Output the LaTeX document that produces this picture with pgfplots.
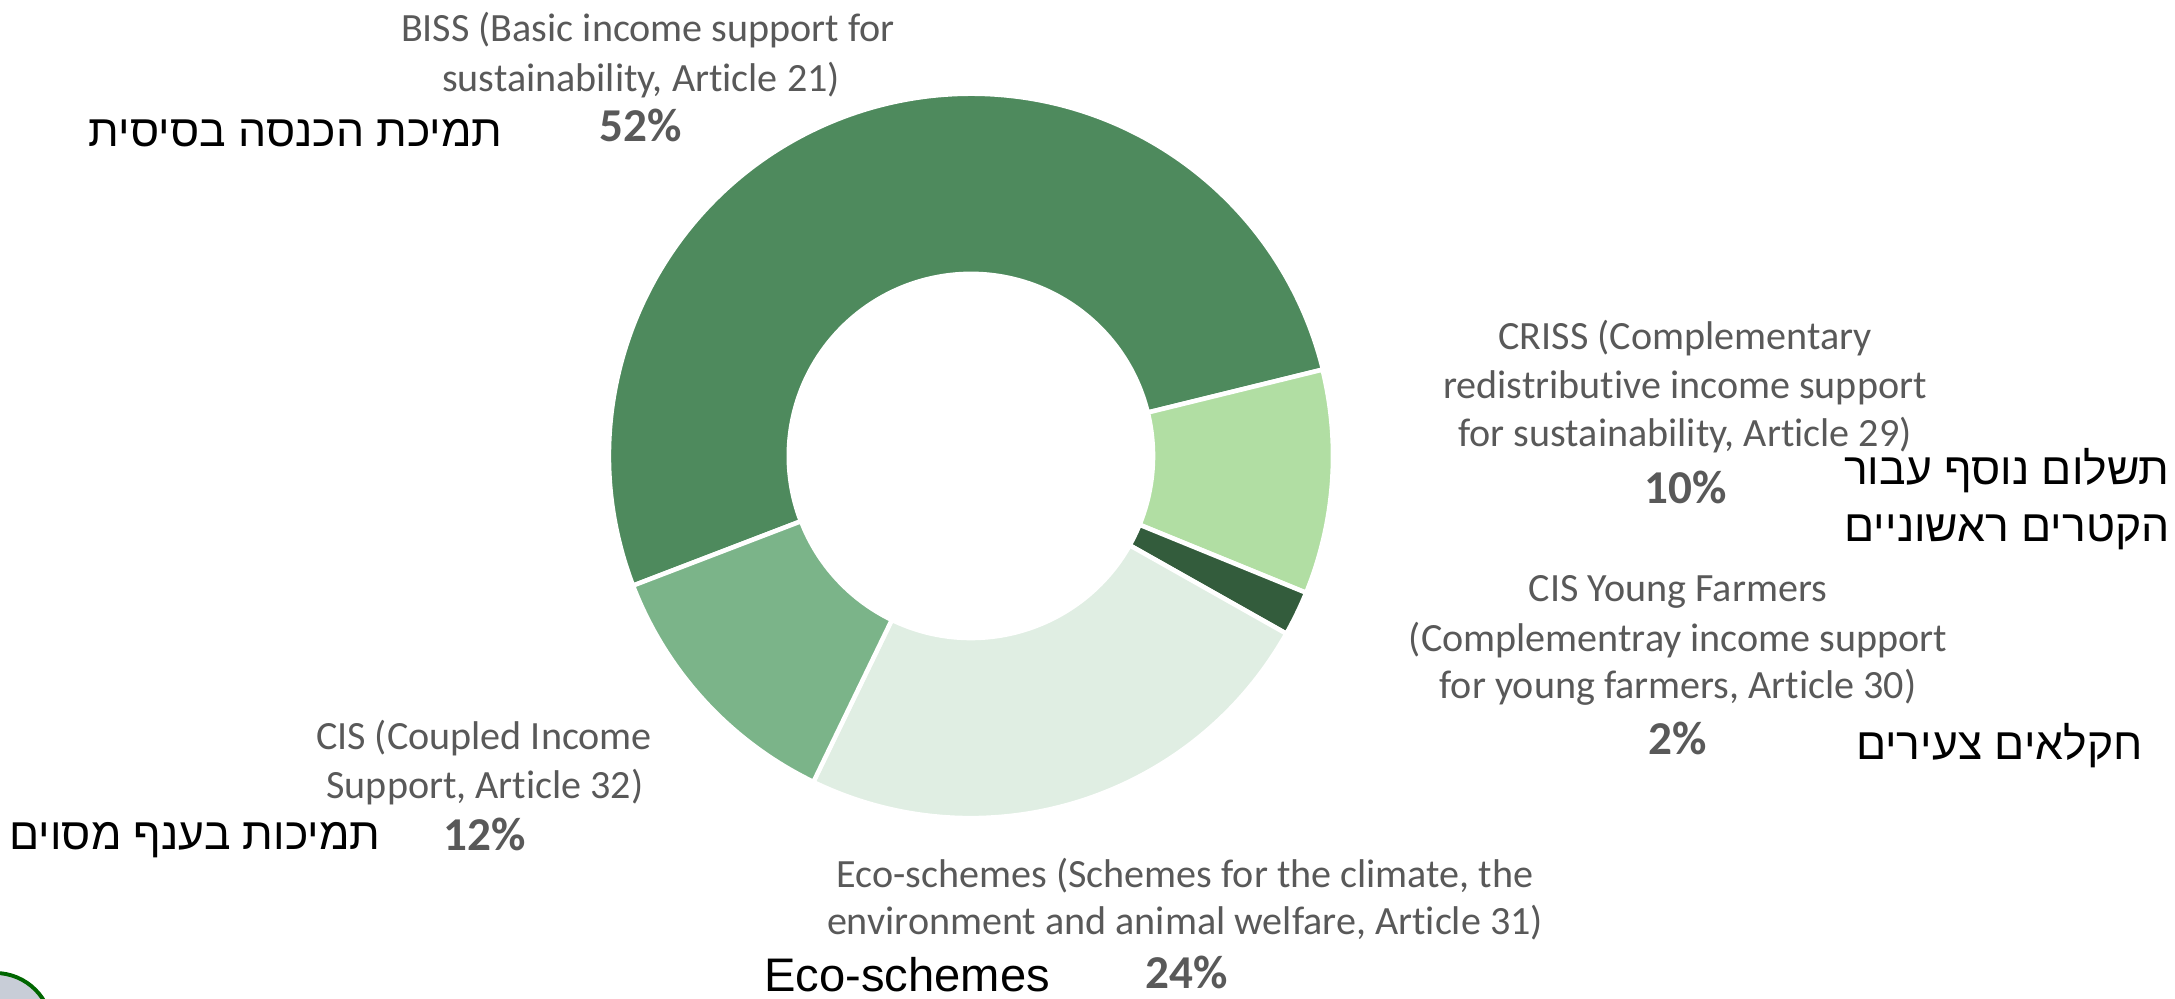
\documentclass[border=0pt]{standalone}
\usepackage{fontspec}
\setmainfont{Carlito}[Ligatures=NoCommon]
\newfontfamily\arialfont{Liberation Sans}
\newfontfamily\hebfont[Script=Hebrew]{Liberation Sans}
\TeXXeTstate=1
\usepackage{pgfplots}
\usepackage{pgfplotstable}
\pgfplotsset{compat=1.18}

\definecolor{slice0}{RGB}{78,138,93}
\definecolor{slice1}{RGB}{177,222,163}
\definecolor{slice2}{RGB}{51,92,60}
\definecolor{slice3}{RGB}{224,238,227}
\definecolor{slice4}{RGB}{123,180,137}
\definecolor{lblgray}{RGB}{89,89,89}

\pgfplotstableread{
part value
BISS 52
CRISS 10
YF 2
Eco 24
CIS 12
}\donut

\newcommand{\gl}{\fontsize{11.4}{13.7}\selectfont\color{lblgray}}
\newcommand{\gb}{\fontsize{13.4}{16}\selectfont\bfseries\color{lblgray}}
\newcommand{\hb}{\fontsize{12.65}{15}\selectfont\hebfont}

\begin{document}
\begin{tikzpicture}
\begin{axis}[
  x=0.01cm, y=0.01cm,
  xmin=0, xmax=2175, ymin=0, ymax=998,
  hide axis, clip=false,
  every node/.style={inner sep=0pt, outer sep=0pt}
]
\def\angstart{201}
\pgfplotsforeachungrouped \i in {0,...,4}{%
  \pgfplotstablegetelem{\i}{value}\of\donut
  \pgfmathsetmacro\aone{\angstart}%
  \pgfmathsetmacro\atwo{\angstart-3.6*\pgfplotsretval}%
  \pgfmathsetmacro\xout{971+362*cos(\aone)}%
  \pgfmathsetmacro\yout{542+362*sin(\aone)}%
  \pgfmathsetmacro\xin{971+182*cos(\atwo)}%
  \pgfmathsetmacro\yin{542+182*sin(\atwo)}%
  \edef\temp{\noexpand\fill[slice\i, draw=white, line width=1.3pt] (axis cs:\xout,\yout) arc[start angle=\aone, end angle=\atwo, radius=3.62cm] -- (axis cs:\xin,\yin) arc[start angle=\atwo, end angle=\aone, radius=1.82cm] -- cycle;}%
  \temp
  \let\angstart\atwo
}

% BISS
\node[anchor=base] at (axis cs:648,956) {\gl BISS (Basic income support for};
\node[anchor=base] at (axis cs:641,906) {\gl sustainability, Article 21)};
\node[anchor=base] at (axis cs:641,856) {\gb 52\%};
\node[anchor=base east] at (axis cs:515,851) {\hb\beginR תמיכת הכנסה בסיסית\endR};

% CRISS
\node[anchor=base] at (axis cs:1685,648) {\gl CRISS (Complementary};
\node[anchor=base] at (axis cs:1685,599) {\gl redistributive income support};
\node[anchor=base] at (axis cs:1685,551) {\gl for sustainability, Article 29)};
\node[anchor=base] at (axis cs:1686,494) {\gb 10\%};
\node[anchor=base east] at (axis cs:2182,513) {\hb\beginR תשלום נוסף עבור\endR};
\node[anchor=base east] at (axis cs:2182,456) {\hb\beginR הקטרים ראשוניים\endR};

% Young farmers
\node[anchor=base] at (axis cs:1678,396) {\gl CIS Young Farmers};
\node[anchor=base] at (axis cs:1678,346) {\gl (Complementray income support};
\node[anchor=base] at (axis cs:1678,299) {\gl for young farmers, Article 30)};
\node[anchor=base] at (axis cs:1678,243) {\gb 2\%};
\node[anchor=base east] at (axis cs:2155,238) {\hb\beginR חקלאים צעירים\endR};

% CIS
\node[anchor=base] at (axis cs:484,248) {\gl CIS (Coupled Income};
\node[anchor=base] at (axis cs:485,199) {\gl Support, Article 32)};
\node[anchor=base] at (axis cs:485,147) {\gb 12\%};
\node[anchor=base east] at (axis cs:393,148) {\hb\beginR תמיכות בענף מסוים\endR};

% Eco
\node[anchor=base] at (axis cs:1185,110) {\gl Eco-schemes (Schemes for the climate, the};
\node[anchor=base] at (axis cs:1185,64) {\gl environment and animal welfare, Article 31)};
\node[anchor=base] at (axis cs:1187,9) {\gb 24\%};
\node[anchor=base west] at (axis cs:752,6) {\fontsize{13.4}{16}\selectfont\arialfont Eco-schemes};

% logo fragment
\draw[overlay, draw=green!40!black, line width=1.1pt, fill={rgb,255:red,200;green,205;blue,215}] (axis cs:-5,-32) circle[radius=0.57cm];
\end{axis}
\pgfresetboundingbox
\useasboundingbox (current axis.south west) rectangle (current axis.north east);
\end{tikzpicture}
\end{document}
